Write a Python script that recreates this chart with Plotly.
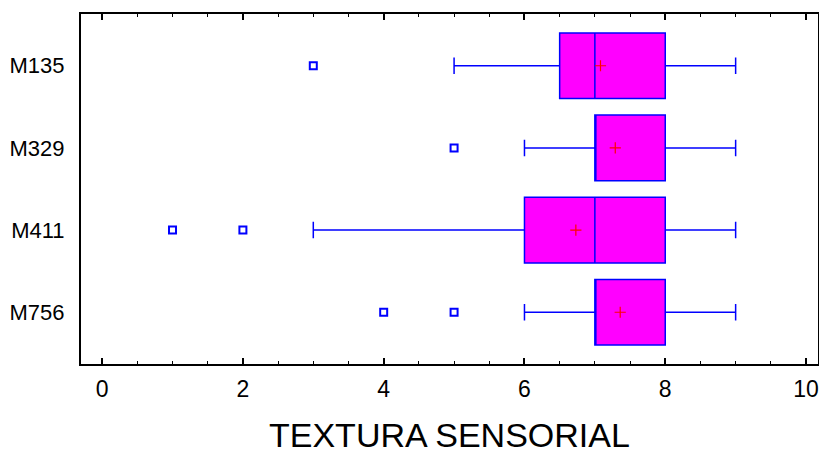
import plotly.graph_objects as go

categories = ["M135", "M329", "M411", "M756"]
q1 = [6.5, 7.0, 6.0, 7.0]
median = [7.0, 7.0, 7.0, 7.0]
q3 = [8.0, 8.0, 8.0, 8.0]
lower_whisker = [5.0, 6.0, 3.0, 6.0]
upper_whisker = [9.0, 9.0, 9.0, 9.0]
means = [7.08, 7.29, 6.73, 7.36]
outlier_cat = ["M135", "M329", "M411", "M411", "M756", "M756"]
outlier_val = [3.0, 5.0, 1.0, 2.0, 4.0, 5.0]
x_ticks = [0, 2, 4, 6, 8, 10]

fig = go.Figure()
fig.add_trace(go.Box(
    y=categories, q1=q1, median=median, q3=q3,
    lowerfence=lower_whisker, upperfence=upper_whisker,
    orientation="h", fillcolor="#FF00FF",
    line=dict(color="#0000FF", width=1.5),
    whiskerwidth=0.25, boxpoints=False, showlegend=False,
    hoverinfo="skip",
))
fig.add_trace(go.Scatter(
    x=outlier_val, y=outlier_cat, mode="markers",
    marker=dict(symbol="square-open", size=7, color="#0000FF",
                line=dict(width=2, color="#0000FF")),
    showlegend=False,
))
fig.add_trace(go.Scatter(
    x=means, y=categories, mode="markers",
    marker=dict(symbol="cross-thin", size=8, color="#FF0000",
                line=dict(width=1.2, color="#FF0000")),
    showlegend=False,
))

fig.update_layout(
    width=819, height=455,
    margin=dict(l=81, r=1, t=14, b=91),
    paper_bgcolor="white", plot_bgcolor="white",
    font=dict(family="Liberation Sans, Arial, sans-serif", color="black"),
    boxgap=0.2, boxgroupgap=0,
    annotations=[dict(
        text="TEXTURA SENSORIAL", xref="paper", yref="paper",
        x=0.5, y=-0.203, xanchor="center", yanchor="middle",
        showarrow=False, font=dict(size=34, color="black"),
    )],
)
fig.update_xaxes(
    range=[-0.3, 10.17], tickvals=x_ticks,
    ticktext=[str(v) for v in x_ticks],
    showgrid=False, zeroline=False, automargin=False,
    showline=True, linecolor="black", linewidth=2, mirror="ticks",
    ticks="inside", ticklen=6, tickwidth=1.5, tickcolor="black",
    minor=dict(dtick=0.5, tick0=0, ticks="inside", ticklen=3, tickwidth=1, tickcolor="black"),
    tickfont=dict(size=23), ticklabelstandoff=3,
)
fig.update_yaxes(
    categoryorder="array", categoryarray=categories,
    range=[3.63, -0.63], automargin=False,
    showgrid=False, zeroline=False,
    showline=True, linecolor="black", linewidth=2, mirror=True,
    ticks="", tickfont=dict(size=22), ticklabelstandoff=10,
)

fig.write_html("out.html", config={"displayModeBar": False},
               post_script="document.body.style.margin='0';")
